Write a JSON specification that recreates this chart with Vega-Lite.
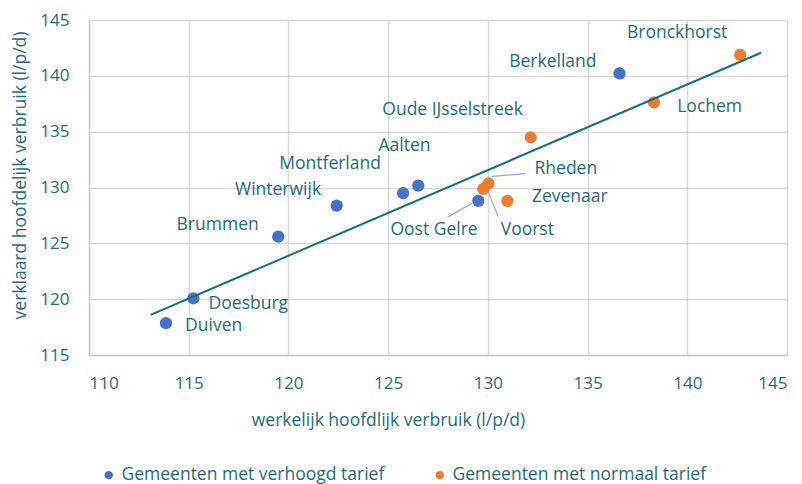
{
  "$schema": "https://vega.github.io/schema/vega-lite/v6.json",
  "width": 698,
  "height": 335,
  "autosize": {"type": "none"},
  "padding": {"left": 89, "top": 20, "right": 15, "bottom": 129},
  "background": "white",
  "config": {
    "font": "Open Sans",
    "view": {"stroke": null},
    "axis": {
      "gridColor": "#D9D9D9",
      "gridWidth": 1.5,
      "domainColor": "#C8C8C8",
      "domainWidth": 1.5,
      "ticks": false,
      "labelColor": "#1E6C7A",
      "labelFontSize": 17,
      "labelFont": "Open Sans",
      "titleColor": "#1E6C7A",
      "titleFontSize": 17.5,
      "titleFont": "Open Sans",
      "titleFontWeight": "normal"
    },
    "axisX": {"labelBaseline": "middle", "labelPadding": 28, "titleX": 299, "titleY": 65, "titleAlign": "center", "titleBaseline": "middle"},
    "axisY": {"labelPadding": 20, "titleX": -69, "titleY": 155, "titleAlign": "center", "titleBaseline": "middle", "titleAngle": -90}
  },
  "datasets": {
    "points": [
      {"name": "Duiven", "x": 113.86, "y": 117.85, "group": "Gemeenten met verhoogd tarief"},
      {"name": "Doesburg", "x": 115.23, "y": 120.08, "group": "Gemeenten met verhoogd tarief"},
      {"name": "Brummen", "x": 119.49, "y": 125.6, "group": "Gemeenten met verhoogd tarief"},
      {"name": "Winterwijk", "x": 122.42, "y": 128.38, "group": "Gemeenten met verhoogd tarief"},
      {"name": "Montferland", "x": 125.75, "y": 129.49, "group": "Gemeenten met verhoogd tarief"},
      {"name": "Aalten", "x": 126.51, "y": 130.17, "group": "Gemeenten met verhoogd tarief"},
      {"name": "Oost Gelre", "x": 129.52, "y": 128.8, "group": "Gemeenten met verhoogd tarief"},
      {"name": "Berkelland", "x": 136.6, "y": 140.22, "group": "Gemeenten met verhoogd tarief"},
      {"name": "Voorst", "x": 129.77, "y": 129.87, "group": "Gemeenten met normaal tarief"},
      {"name": "Rheden", "x": 130.03, "y": 130.38, "group": "Gemeenten met normaal tarief"},
      {"name": "Zevenaar", "x": 130.98, "y": 128.8, "group": "Gemeenten met normaal tarief"},
      {"name": "Oude IJsselstreek", "x": 132.15, "y": 134.5, "group": "Gemeenten met normaal tarief"},
      {"name": "Lochem", "x": 138.33, "y": 137.63, "group": "Gemeenten met normaal tarief"},
      {"name": "Bronckhorst", "x": 142.65, "y": 141.87, "group": "Gemeenten met normaal tarief"}
    ],
    "labels": [
      {"name": "Duiven", "x": 116.25, "y": 117.61},
      {"name": "Doesburg", "x": 117.99, "y": 119.57},
      {"name": "Brummen", "x": 116.45, "y": 126.65},
      {"name": "Winterwijk", "x": 119.48, "y": 129.78},
      {"name": "Montferland", "x": 122.09, "y": 132.08},
      {"name": "Aalten", "x": 125.82, "y": 133.75},
      {"name": "Oost Gelre", "x": 127.3, "y": 126.2},
      {"name": "Berkelland", "x": 133.26, "y": 141.21},
      {"name": "Voorst", "x": 131.98, "y": 126.2},
      {"name": "Rheden", "x": 133.91, "y": 131.66},
      {"name": "Zevenaar", "x": 134.11, "y": 129.13},
      {"name": "Oude IJsselstreek", "x": 128.23, "y": 136.94},
      {"name": "Lochem", "x": 141.12, "y": 137.24},
      {"name": "Bronckhorst", "x": 139.49, "y": 143.81}
    ],
    "leaders": [
      {"name": "Rheden", "x": 130.2, "y": 131.0, "x2": 131.87, "y2": 131.24},
      {"name": "Voorst", "x": 129.94, "y": 129.93, "x2": 130.52, "y2": 127.39},
      {"name": "Oost Gelre", "x": 128.02, "y": 127.39, "x2": 129.19, "y2": 128.58}
    ],
    "trend": [
      {"x": 113.09, "y": 118.59},
      {"x": 143.7, "y": 142.07}
    ]
  },
  "layer": [
    {
      "data": {"name": "leaders"},
      "mark": {"type": "rule", "color": "#8EA9DB", "strokeWidth": 1.2},
      "encoding": {
        "x": {"field": "x", "type": "quantitative", "scale": {"domain": [110, 145], "nice": false, "zero": false}, "axis": {"values": [110, 115, 120, 125, 130, 135, 140, 145]}, "title": "werkelijk hoofdlijk verbruik (l/p/d)"},
        "y": {"field": "y", "type": "quantitative", "scale": {"domain": [115, 145], "nice": false, "zero": false}, "axis": {"values": [115, 120, 125, 130, 135, 140, 145]}, "title": "verklaard hoofdelijk verbruik (l/p/d)"},
        "x2": {"field": "x2"},
        "y2": {"field": "y2"}
      }
    },
    {
      "data": {"name": "points"},
      "mark": {"type": "point", "filled": true, "shape": "circle", "size": 150, "opacity": 1},
      "encoding": {
        "x": {"field": "x", "type": "quantitative", "title": "werkelijk hoofdlijk verbruik (l/p/d)"},
        "y": {"field": "y", "type": "quantitative", "title": "verklaard hoofdelijk verbruik (l/p/d)"},
        "color": {
          "field": "group",
          "type": "nominal",
          "scale": {"domain": ["Gemeenten met verhoogd tarief", "Gemeenten met normaal tarief"], "range": ["#4472C4", "#ED7D31"]},
          "legend": {
            "orient": "none",
            "legendX": 11,
            "legendY": 446,
            "direction": "horizontal",
            "title": null,
            "symbolType": "circle",
            "symbolSize": 70,
            "symbolStrokeWidth": 0,
            "labelFontSize": 17.5,
            "labelFont": "Open Sans",
            "labelColor": "#1E6C7A",
            "labelLimit": 0,
            "labelOffset": 4,
            "columnPadding": 46
          }
        }
      }
    },
    {
      "data": {"name": "trend"},
      "mark": {"type": "line", "color": "#156F7B", "strokeWidth": 2},
      "encoding": {
        "x": {"field": "x", "type": "quantitative", "title": "werkelijk hoofdlijk verbruik (l/p/d)"},
        "y": {"field": "y", "type": "quantitative", "title": "verklaard hoofdelijk verbruik (l/p/d)"}
      }
    },
    {
      "data": {"name": "labels"},
      "mark": {"type": "text", "fontSize": 17.5, "font": "Open Sans", "color": "#1E6C7A", "align": "center", "baseline": "middle"},
      "encoding": {
        "x": {"field": "x", "type": "quantitative", "title": "werkelijk hoofdlijk verbruik (l/p/d)"},
        "y": {"field": "y", "type": "quantitative", "title": "verklaard hoofdelijk verbruik (l/p/d)"},
        "text": {"field": "name"}
      }
    }
  ]
}
